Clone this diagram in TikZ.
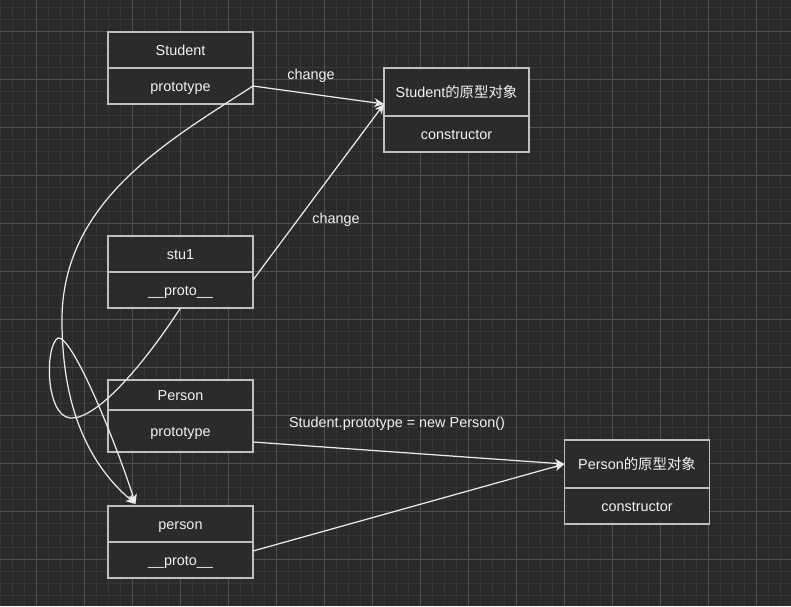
\documentclass[tikz,border=0pt]{standalone}
\usepackage{fontspec}
\setmainfont{Liberation Sans}
\newfontfamily\cjk{Noto Sans CJK SC}
\usetikzlibrary{arrows.meta,positioning}
\definecolor{canvas}{RGB}{42,42,42}
\definecolor{fineline}{RGB}{54,54,54}
\definecolor{coarseline}{RGB}{80,80,80}
\definecolor{boxbg}{RGB}{43,43,43}
\definecolor{frame}{RGB}{192,192,192}
\definecolor{paper}{RGB}{242,242,242}
\definecolor{wirecol}{RGB}{235,235,235}
\tikzset{
  >={Stealth[length=5.5pt,width=5pt,inset=1.6pt]},
  cell/.style={draw=frame,fill=boxbg,line width=0.85pt,minimum width=2.9cm,
    minimum height=#1,inner sep=0pt,outer sep=0pt,text=paper,
    text height=0.8em,text depth=0.2em},
  cell/.default=0.72cm,
  wire/.style={->,draw=wirecol,line width=0.7pt},
  tag/.style={text=paper,inner sep=0pt,text height=0.8em,text depth=0.2em},
  fine/.style={draw=fineline,line width=0.5pt},
  coarse/.style={draw=coarseline,line width=0.55pt},
}

\begin{document}
\begin{tikzpicture}[x=0.02cm,y=-0.02cm,font=\fontsize{8.2}{9.8}\selectfont]
  \useasboundingbox (0,0) rectangle (791,606);
  \fill[canvas] (0,0) rectangle (791,606);
  % grid
  \foreach \x in {0,12,...,790} \draw[fine] (\x,0) -- (\x,606);
  \foreach \y in {7,19,...,606} \draw[fine] (0,\y) -- (791,\y);
  \foreach \x in {36,84,...,780} \draw[coarse] (\x,0) -- (\x,606);
  \foreach \y in {31,79,...,606} \draw[coarse] (0,\y) -- (791,\y);

  % objects
  \node[cell] (student) at (180.5,50) {Student};
  \node[cell,below=0pt of student] (studentp) {prototype};
  \node[cell] (stu1) at (180.5,254) {stu1};
  \node[cell,below=0pt of stu1] (stu1p) {\_\_proto\_\_};
  \node[cell=0.6cm] (Person) at (180.5,395) {Person};
  \node[cell=0.84cm,below=0pt of Person] (Personp) {prototype};
  \node[cell] (person) at (180.5,524) {person};
  \node[cell,below=0pt of person] (personp) {\_\_proto\_\_};
  \node[cell=0.96cm] (sobj) at (456.5,92) {Student{\cjk 的原型对象}};
  \node[cell,below=0pt of sobj] (sobjc) {constructor};
  \node[cell=0.96cm] (pobj) at (637,464) {Person{\cjk 的原型对象}};
  \node[cell,below=0pt of pobj] (pobjc) {constructor};

  \coordinate (sobjin) at ([yshift=-0.24cm]sobj.west);
  \coordinate (personin) at ([xshift=-0.9cm,yshift=0.04cm]person.north);

  % links
  \draw[wire] (studentp.east) -- (sobjin);
  \draw[wire] ([yshift=-0.16cm]stu1p.north east) -- (sobjin);
  \draw[wire] ([yshift=-0.64cm]Personp.north east) -- (pobj.west);
  \draw[wire] ([yshift=-0.18cm]personp.north east) -- (pobj.west);
  \draw[wire] (studentp.east) .. controls (170,140) and (62,200) .. (62,320)
    .. controls (62,410) and (90,465) .. (personin);
  \draw[wire] (stu1p.south) .. controls (140,370) and (95,420) .. (70,418)
    .. controls (45,415) and (45,345) .. (58,338)
    .. controls (72,335) and (115,440) .. (personin);

  \node[tag] (chg1) at (311,74) {change};
  \node[tag] (chg2) at (336,218) {change};
  \node[tag] (assign) at (397,422) {Student.prototype = new Person()};
\end{tikzpicture}
\end{document}
